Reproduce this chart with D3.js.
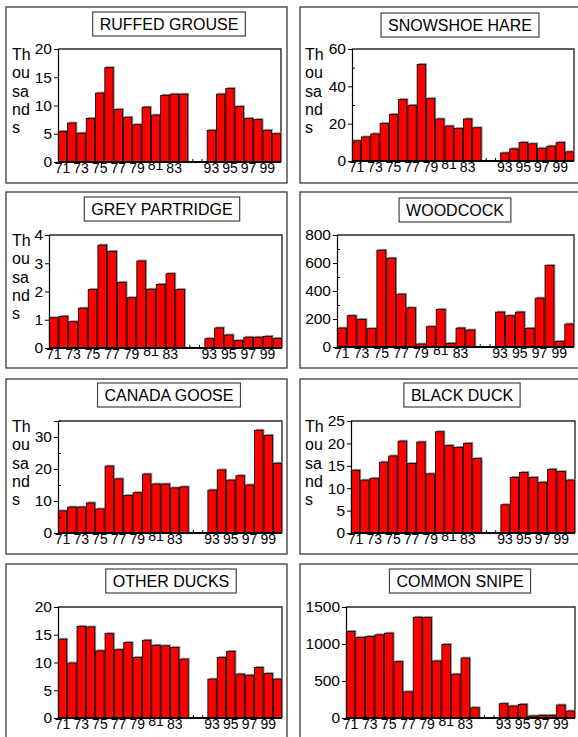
<!DOCTYPE html>
<html>
<head>
<meta charset="utf-8">
<script src="https://cdn.jsdelivr.net/npm/d3@7"></script>
<style>
  html, body { margin: 0; padding: 0; background: #fff; }
  svg { display: block; font-family: "Liberation Sans", Arial, sans-serif; }
</style>
</head>
<body>
<svg id="chart" width="578" height="737"></svg>
<script>
// Harvest seasons: 1971-1984, a break for 1985-1992, then 1993-2000
const years = ["71","72","73","74","75","76","77","78","79","80","81","82","83","84","","","93","94","95","96","97","98","99","00"];
const tickLabels = ["71","73","75","77","79","81","83","93","95","97","99"];

// Harvest per species (thousands, except woodcock and snipe); null = no survey
const ruffedGrouse   = [5.4,6.9,5.1,7.7,12.2,16.7,9.3,7.9,6.6,9.7,8.3,11.8,12.0,12.0,null,null,5.6,12.0,13.0,9.8,7.7,7.5,5.6,5.0];
const snowshoeHare   = [10.8,12.9,14.5,20.1,25.0,32.9,29.8,51.7,33.4,22.5,18.7,17.4,22.5,17.8,null,null,4.3,6.5,9.9,9.2,6.8,7.9,9.9,4.9];
const greyPartridge  = [1.07,1.12,0.93,1.41,2.07,3.64,3.42,2.32,1.78,3.08,2.08,2.25,2.63,2.07,null,null,0.33,0.71,0.46,0.26,0.38,0.38,0.41,0.34];
const woodcock       = [135,223,197,131,691,634,377,280,21,145,268,26,135,121,null,null,249,223,249,133,349,582,40,164];
const canadaGoose    = [6.9,8.1,8.1,9.4,7.5,20.9,16.9,11.7,12.6,18.4,15.3,15.3,14.1,14.4,null,null,13.4,19.7,16.5,17.9,15.0,32.1,30.5,21.8];
const blackDuck      = [14.0,11.8,12.2,15.8,17.2,20.5,15.5,20.3,13.2,22.6,19.5,19.1,20.0,16.6,null,null,6.3,12.4,13.5,12.4,11.3,14.2,13.7,11.8];
const otherDucks     = [14.2,9.9,16.5,16.4,12.1,15.2,12.3,13.6,10.9,14.0,13.1,13.0,12.7,10.6,null,null,7.0,10.9,12.0,7.9,7.7,9.1,8.0,7.0];
const commonSnipe    = [1169,1088,1101,1124,1146,761,354,1361,1357,770,994,591,810,139,null,null,193,161,184,27,36,36,175,94];

// Axis ranges and tick steps for each species
const titles     = ["RUFFED GROUSE","SNOWSHOE HARE","GREY PARTRIDGE","WOODCOCK","CANADA GOOSE","BLACK DUCK","OTHER DUCKS","COMMON SNIPE"];
const seriesList = [ruffedGrouse, snowshoeHare, greyPartridge, woodcock, canadaGoose, blackDuck, otherDucks, commonSnipe];
const yMax       = [20, 60, 4, 800, 35, 25, 20, 1500];
const yMajor     = [5, 20, 1, 200, 10, 5, 5, 500];
const yMinor     = [null, 10, null, 100, 5, null, null, null];
const unitLabel  = [true, true, true, false, true, true, false, false];

// Panel geometry (frame box, plot area, title centre)
const layout = [
  {box:[6,7,281,176],    plot:[58,281,49,162],   tx:169, ty:12,  ux:12},
  {box:[300,7,290,176],  plot:[352,574,49,161],  tx:460, ty:13,  ux:305},
  {box:[6,192,281,176],  plot:[49,282,235,348],  tx:162, ty:197, ux:12},
  {box:[300,192,290,176],plot:[337,574,235,347], tx:455, ty:198, ux:305},
  {box:[6,379,281,175],  plot:[58,282,421,533],  tx:169, ty:383, ux:12},
  {box:[300,379,290,175],plot:[351,575,421,533], tx:462, ty:383, ux:305},
  {box:[6,564,281,190],  plot:[58,282,607,718],  tx:171, ty:569, ux:12},
  {box:[300,564,290,190],plot:[346,575,607,718], tx:460, ty:569, ux:305}
];

const svg = d3.select("#chart");

layout.forEach((L, k) => {
  const g = svg.append("g");
  const [x0, x1, y0, y1] = L.plot;
  const data = seriesList[k];

  // outer frame
  g.append("rect")
    .attr("x", L.box[0]).attr("y", L.box[1])
    .attr("width", L.box[2]).attr("height", L.box[3])
    .attr("fill", "none").attr("stroke", "#3a3a3a").attr("stroke-width", 1.3);

  // title box
  const tt = g.append("text")
    .attr("x", L.tx).attr("y", L.ty + 18)
    .attr("text-anchor", "middle")
    .attr("font-size", 16).attr("fill", "#000")
    .text(titles[k]);
  const tw = tt.node().getComputedTextLength();
  g.insert("rect", "text")
    .attr("x", L.tx - tw / 2 - 7).attr("y", L.ty)
    .attr("width", tw + 14).attr("height", 24)
    .attr("fill", "#fff").attr("stroke", "#444").attr("stroke-width", 1.2);

  const x = d3.scaleBand()
    .domain(d3.range(years.length))
    .range([x0, x1])
    .paddingInner(0.1)
    .paddingOuter(0.03);
  const y = d3.scaleLinear().domain([0, yMax[k]]).range([y1, y0]);

  // plot frame (top and right)
  g.append("path")
    .attr("d", `M${x0},${y0}H${x1}V${y1}`)
    .attr("fill", "none").attr("stroke", "#2a2a2a").attr("stroke-width", 1.4);

  // x axis: inward ticks at each season, labels every other year
  const xAxis = d3.axisBottom(x)
    .tickSizeInner(-3).tickSizeOuter(0).tickPadding(1)
    .tickFormat(i => tickLabels.includes(years[i]) ? years[i] : "");
  const gx = g.append("g").attr("transform", `translate(0,${y1})`).call(xAxis);
  gx.select(".domain").remove();
  gx.selectAll(".tick line").attr("stroke", "#000");
  gx.selectAll(".tick text")
    .attr("font-size", 14).attr("font-family", "Liberation Sans, Arial, sans-serif")
    .attr("fill", "#000")
    .attr("dy", d => years[d] === "81" ? "0.52em" : "0.68em");

  // bars with a grey drop shadow
  const bw = x.bandwidth();
  const valid = d3.range(years.length).filter(i => data[i] != null);
  g.append("g").selectAll("rect").data(valid).join("rect")
    .attr("x", i => x(i) + 1.4)
    .attr("y", i => y(data[i]) - 1.4)
    .attr("width", bw)
    .attr("height", i => y1 - y(data[i]) + 1.4)
    .attr("fill", "#8e8e8e");
  g.append("g").selectAll("rect").data(valid).join("rect")
    .attr("x", i => x(i))
    .attr("y", i => y(data[i]))
    .attr("width", bw)
    .attr("height", i => y1 - y(data[i]))
    .attr("fill", "#ff0000")
    .attr("stroke", "#000").attr("stroke-width", 0.8);

  // baseline
  g.append("line")
    .attr("x1", x0).attr("x2", x1).attr("y1", y1).attr("y2", y1)
    .attr("stroke", "#000").attr("stroke-width", 2);

  // y axis: outward labelled ticks, inward minor ticks
  const major = d3.range(0, yMax[k] + 1e-9, yMajor[k]);
  const yAxis = d3.axisLeft(y).tickValues(major).tickSize(4).tickPadding(2)
    .tickFormat(d3.format("d"));
  const gy = g.append("g").attr("transform", `translate(${x0},0)`).call(yAxis);
  gy.select(".domain").attr("stroke", "#000").attr("stroke-width", 1.2);
  gy.selectAll(".tick line").attr("stroke", "#000");
  gy.selectAll(".tick text")
    .attr("font-size", 15.5).attr("font-family", "Liberation Sans, Arial, sans-serif")
    .attr("fill", "#000");
  if (yMinor[k]) {
    const minor = d3.range(yMinor[k], yMax[k] + 1e-9, yMinor[k]).filter(v => !major.some(m => Math.abs(m - v) < 1e-9));
    const gm = g.append("g").attr("transform", `translate(${x0},0)`)
      .call(d3.axisLeft(y).tickValues(minor).tickSize(-3).tickFormat(""));
    gm.select(".domain").remove();
    gm.selectAll(".tick line").attr("stroke", "#000");
  }

  // stacked unit label
  if (unitLabel[k]) {
    const parts = ["Th", "ou", "sa", "nd", "s"];
    g.append("text")
      .attr("font-size", 16).attr("fill", "#000")
      .selectAll("tspan").data(parts).join("tspan")
      .attr("x", L.ux)
      .attr("y", (d, i) => y0 + 11 + i * 18.3)
      .text(d => d);
  }
});
</script>
</body>
</html>
